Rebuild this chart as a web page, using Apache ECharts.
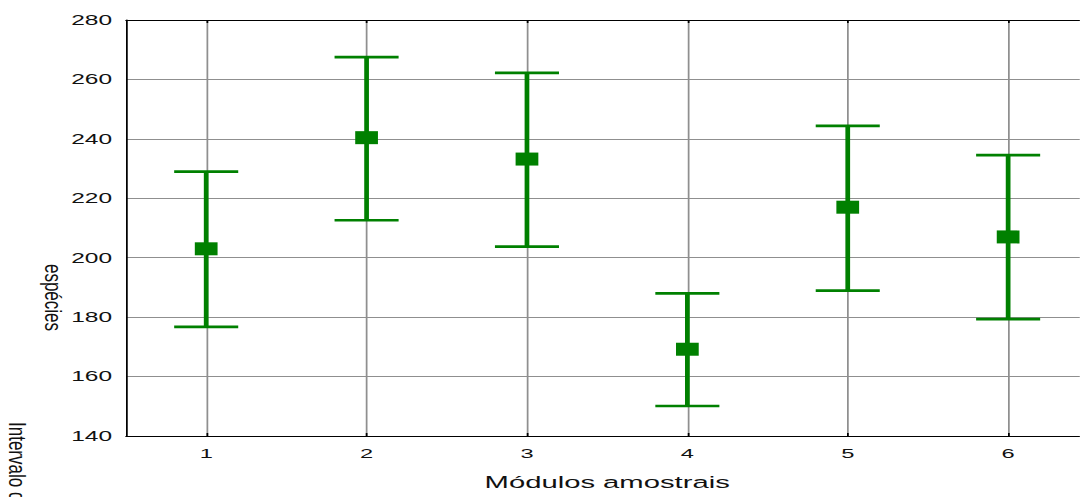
<!DOCTYPE html>
<html>
<head>
<meta charset="utf-8">
<script src="https://cdn.jsdelivr.net/npm/echarts@6/dist/echarts.min.js"></script>
<style>
  html, body { margin: 0; padding: 0; width: 1080px; height: 497px; overflow: hidden; background: #fff; }
  /* the plot is drawn narrow and widened horizontally */
  #chart { position: absolute; left: 0; top: 0; width: 617.14px; height: 497px; transform: scaleX(1.75); transform-origin: 0 0; }
</style>
</head>
<body>
<div id="chart"></div>
<script>
// Sampling modules and species-count confidence intervals
const categories = ['1', '2', '3', '4', '5', '6'];
const means = [203.0, 240.4, 233.2, 169.2, 217.0, 207.0];
const lowerBounds = [176.7, 212.6, 203.7, 150.1, 188.9, 179.3];
const upperBounds = [229.0, 267.5, 262.2, 188.0, 244.4, 234.5];

// value axis range and step
const yMin = 140;
const yMax = 280;
const yStep = 20;

const xTitle = 'Módulos amostrais';
const yTitleLine1 = 'Intervalo de confiança';
const yTitleLine2 = 'espécies';

const STRETCH = 1.75;
const GREEN = '#008000';
const FONT = '"Liberation Sans", Arial, Helvetica, sans-serif';

const chart = echarts.init(document.getElementById('chart'), null, { renderer: 'svg' });

const intervalData = categories.map((c, i) => [i, lowerBounds[i], upperBounds[i]]);

function renderInterval(params, api) {
  const idx = api.value(0);
  const lo = api.coord([idx, api.value(1)]);
  const hi = api.coord([idx, api.value(2)]);
  const halfCap = 18.3;
  const style = { stroke: GREEN, lineWidth: 2.7, fill: null };
  return {
    type: 'group',
    children: [
      { type: 'line', shape: { x1: lo[0], y1: lo[1], x2: hi[0], y2: hi[1] }, style: style },
      { type: 'line', shape: { x1: hi[0] - halfCap, y1: hi[1], x2: hi[0] + halfCap, y2: hi[1] }, style: style },
      { type: 'line', shape: { x1: lo[0] - halfCap, y1: lo[1], x2: lo[0] + halfCap, y2: lo[1] }, style: style }
    ]
  };
}

// rotated titles: partly undo the horizontal widening
const rotatedScale = 1.45 / STRETCH;

const option = {
  animation: false,
  backgroundColor: '#ffffff',
  grid: { left: 72, right: -4.9, top: 20, bottom: 61, containLabel: false, outerBoundsMode: 'none' },
  xAxis: [
    {
      type: 'category',
      data: categories,
      position: 'bottom',
      boundaryGap: true,
      axisLine: { show: true, lineStyle: { color: '#000', width: 1 } },
      axisTick: { show: true, inside: true, length: 3, alignWithLabel: true, lineStyle: { color: '#000', width: 1 } },
      axisLabel: { color: '#111', fontSize: 13.5, fontFamily: FONT, margin: 10 },
      splitLine: { show: true, alignWithLabel: true, lineStyle: { color: '#8f8f8f', width: 1 } },
      name: xTitle,
      nameLocation: 'middle',
      nameGap: 38,
      nameTextStyle: { color: '#111', fontSize: 16.7, fontFamily: FONT }
    },
    {
      type: 'category',
      data: categories,
      position: 'top',
      boundaryGap: true,
      axisLine: { show: true, lineStyle: { color: '#000', width: 1 } },
      axisTick: { show: true, inside: true, length: 3, alignWithLabel: true, lineStyle: { color: '#000', width: 1 } },
      axisLabel: { show: false },
      splitLine: { show: false }
    }
  ],
  yAxis: {
    type: 'value',
    min: yMin,
    max: yMax,
    interval: yStep,
    axisLine: { show: true, lineStyle: { color: '#000', width: 1 } },
    axisTick: { show: false },
    axisLabel: { color: '#111', fontSize: 14, fontFamily: FONT, margin: 8 },
    splitLine: { show: true, lineStyle: { color: '#8f8f8f', width: 1 } }
  },
  graphic: [
    {
      type: 'text',
      x: 10.4, y: 422,
      rotation: -Math.PI / 2,
      scaleY: rotatedScale,
      style: { text: yTitleLine1, fontSize: 17, fontFamily: FONT, fill: '#111', align: 'left', verticalAlign: 'middle' }
    },
    {
      type: 'text',
      x: 30.6, y: 297.5,
      rotation: -Math.PI / 2,
      scaleY: rotatedScale,
      style: { text: yTitleLine2, fontSize: 17, fontFamily: FONT, fill: '#111', align: 'center', verticalAlign: 'middle' }
    }
  ],
  series: [
    {
      type: 'custom',
      xAxisIndex: 0,
      data: intervalData,
      encode: { x: 0, y: [1, 2] },
      renderItem: renderInterval,
      silent: true
    },
    {
      type: 'scatter',
      xAxisIndex: 0,
      data: means,
      symbol: 'rect',
      symbolSize: [13, 13],
      itemStyle: { color: GREEN, opacity: 1 },
      emphasis: { disabled: true },
      silent: true,
      z: 5
    }
  ]
};

chart.setOption(option);
</script>
</body>
</html>
